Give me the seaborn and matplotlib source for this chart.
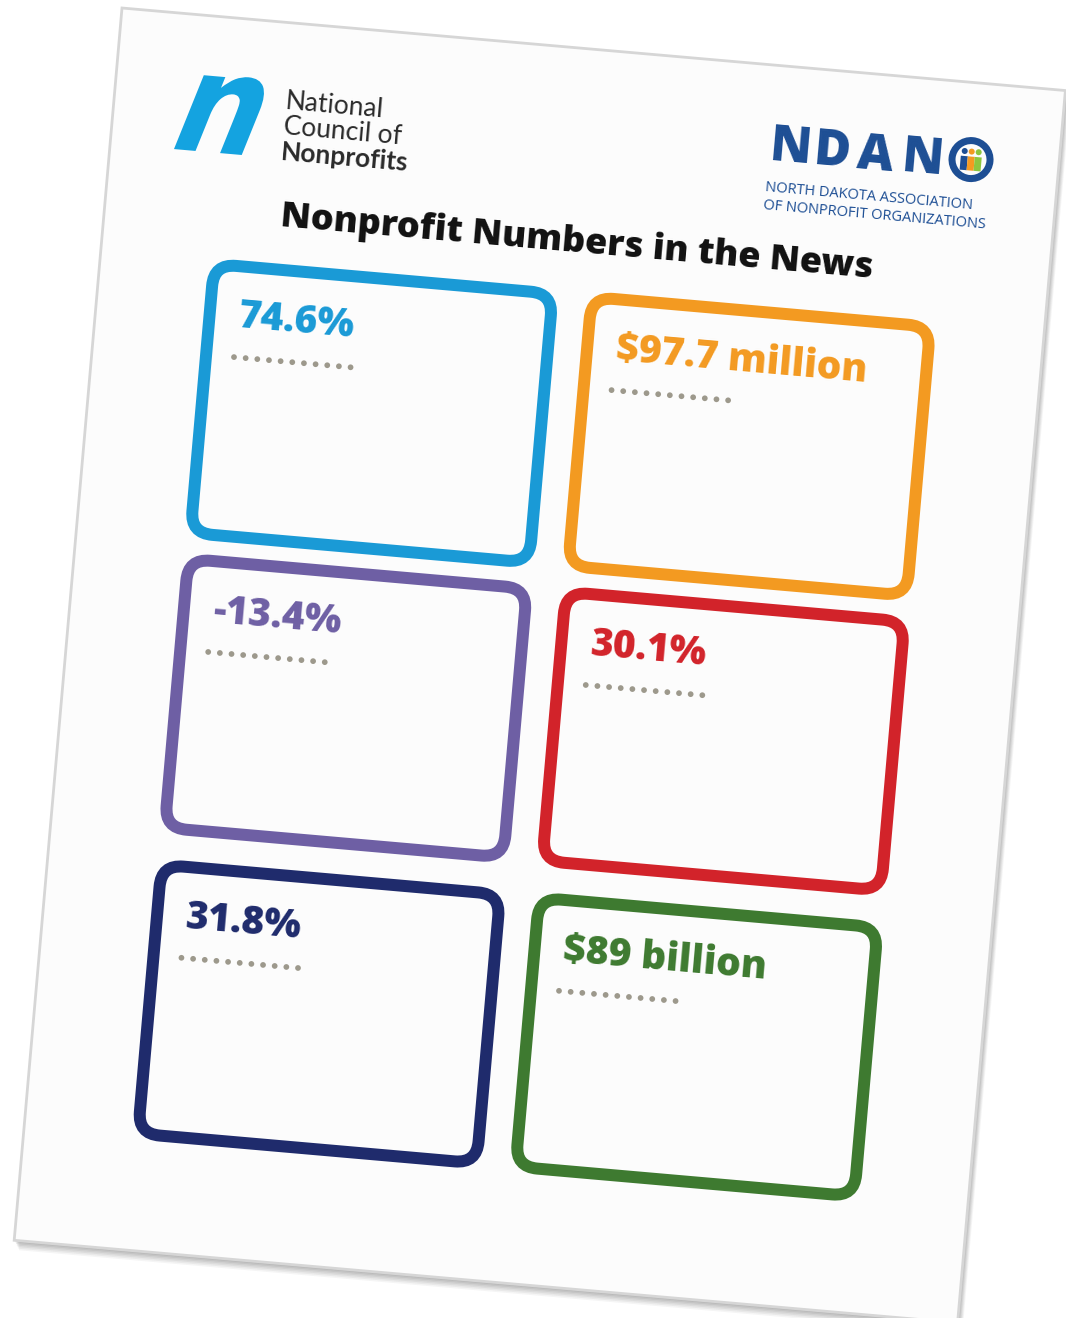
import numpy as np
import matplotlib
matplotlib.use('Agg')
import matplotlib.pyplot as plt
import seaborn as sns
from matplotlib.patches import FancyBboxPatch, Rectangle, Circle, PathPatch
from matplotlib.transforms import Affine2D
from matplotlib.textpath import TextPath
from matplotlib.font_manager import FontProperties

# Data
numbers = ['74.6%', '$97.7 million', '-13.4%', '30.1%', '31.8%', '$89 billion']
box_colors = ['#1a9ad6', '#f39a21', '#6e5fa4', '#d2232a', '#1f2b6c', '#3e7a30']
title = 'Nonprofit Numbers in the News'
ncn_lines = ['National', 'Council of', 'Nonprofits']
ndano_letters = ['N', 'D', 'A', 'N']
ndano_sub = ['NORTH DAKOTA ASSOCIATION', 'OF NONPROFIT ORGANIZATIONS']
n_dots = 11

# Layout (page coordinates, pixels, y down)
page_w, page_h = 947, 1237
angle = 5.0
col_left = [108, 487]
row_top = [241, 537, 844]
box_w, box_h = 352, 282
lw_px = 12

sns.set_theme(style='white')
plt.rcParams['font.family'] = ['Open Sans', 'DejaVu Sans']

fig = plt.figure(figsize=(10.66, 13.18), dpi=100)
ax = fig.add_axes([0, 0, 1, 1])
tr = Affine2D().rotate_deg(angle).translate(122, 8) + ax.transData

# page shadow
for i, a in enumerate([0.10, 0.10, 0.09, 0.08, 0.07, 0.06]):
    off = 2 + i * 1.5
    ax.add_patch(Rectangle((off * 0.6, off), page_w, page_h, facecolor='#555555',
                           edgecolor='none', alpha=a, transform=tr, zorder=1))
ax.add_patch(Rectangle((0, 0), page_w, page_h, facecolor='#fcfcfc',
                       edgecolor='#d6d6d6', linewidth=2, transform=tr, zorder=2))

pt = 72 / 100
for i, (num, col) in enumerate(zip(numbers, box_colors)):
    x0 = col_left[i % 2]
    y0 = row_top[i // 2]
    ax.add_patch(FancyBboxPatch((x0 + lw_px / 2, y0 + lw_px / 2), box_w - lw_px, box_h - lw_px,
                                boxstyle='round,pad=0,rounding_size=22', facecolor='none',
                                edgecolor=col, linewidth=lw_px * pt, transform=tr, zorder=3))
    ax.text(x0 + 35, y0 + 67, num, color=col, fontsize=28, fontweight='heavy',
            ha='left', va='baseline', rotation=-angle, rotation_mode='anchor',
            transform=tr, zorder=4)
    du = x0 + 34 + np.arange(n_dots) * 11.7
    dv = np.full(n_dots, y0 + 97.0)
    sns.scatterplot(x=du, y=dv, ax=ax, color='#9d998c', s=17, edgecolor='none',
                    legend=False, transform=tr, zorder=4)

# title
ax.text(474, 203, title, fontsize=26, fontweight='heavy', color='#111111',
        ha='center', va='baseline', rotation=-angle, rotation_mode='anchor',
        transform=tr, zorder=4)

# NCN logo: slanted "n"
tp = TextPath((0, 0), 'n', size=100, prop=FontProperties(family='DejaVu Sans', weight='bold'))
ext = tp.get_extents()
sx = 68 / ext.width
sy = 78 / ext.height
n_tr = (Affine2D().translate(-(ext.x0 + ext.width / 2), -(ext.y0 + ext.height / 2))
        .scale(sx, -sy).skew_deg(-17, 0).translate(110, 97))
ax.add_patch(PathPatch(n_tr.transform_path(tp), facecolor='#14a3e0', edgecolor='none',
                       transform=tr, zorder=4))
for j, line in enumerate(ncn_lines):
    ax.text(171, 86 + j * 26, line, fontsize=19, color='#2a2a2a',
            fontweight='bold' if j == 2 else 'normal', family=['Lato', 'DejaVu Sans'],
            ha='left', va='baseline', rotation=-angle, rotation_mode='anchor',
            transform=tr, zorder=4)

# NDANO logo
ndano_blue = '#1d4e94'
for k, ch in enumerate(ndano_letters):
    ax.text(657 + k * 44, 95, ch, fontsize=36, fontweight='heavy', color=ndano_blue,
            ha='left', va='baseline', rotation=-angle, rotation_mode='anchor',
            transform=tr, zorder=4)
ax.add_patch(Circle((859, 77), 19, facecolor='none', edgecolor=ndano_blue,
                    linewidth=7 * pt, transform=tr, zorder=4))
for du_, col in zip([-7, 0, 7], [ndano_blue, '#f39a21', '#8cc63f']):
    ax.add_patch(Circle((859 + du_, 69), 3, facecolor=col, edgecolor='none', transform=tr, zorder=5))
    ax.add_patch(Rectangle((859 + du_ - 3.5, 74), 7, 14, facecolor=col, edgecolor='none',
                           transform=tr, zorder=5))
for j, line in enumerate(ndano_sub):
    ax.text(656, 126 + j * 18, line, fontsize=10.5, color=ndano_blue,
            ha='left', va='baseline', rotation=-angle, rotation_mode='anchor',
            transform=tr, zorder=4)

ax.set_xlim(0, 1066)
ax.set_ylim(1318, 0)
ax.axis('off')
fig.savefig('out.png', dpi=100, facecolor='white')
